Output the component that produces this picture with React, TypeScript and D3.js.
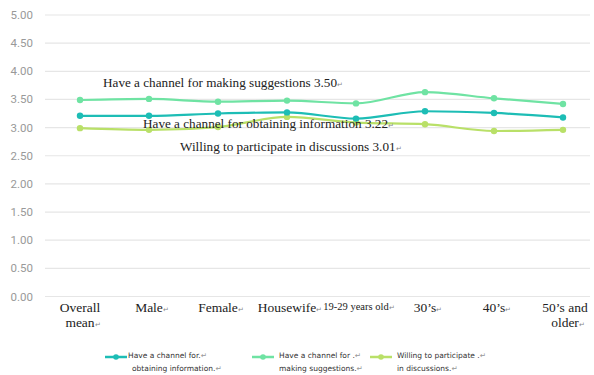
import React, { useRef, useEffect } from 'react';
import * as d3 from 'd3';

const categories = ['Overall mean', 'Male', 'Female', 'Housewife', '19-29 years old', "30's", "40's", "50's and older"];
const categoryLines = [['Overall', 'mean'], ['Male'], ['Female'], ['Housewife'], ['19-29 years old'], ['30’s'], ['40’s'], ['50’s and', 'older']];
const information = [3.21, 3.21, 3.25, 3.27, 3.16, 3.29, 3.26, 3.18];
const suggestions = [3.49, 3.51, 3.46, 3.48, 3.43, 3.63, 3.52, 3.42];
const discussions = [2.99, 2.96, 3.01, 3.19, 3.09, 3.06, 2.94, 2.96];
const yTicks = [0, 0.5, 1, 1.5, 2, 2.5, 3, 3.5, 4, 4.5, 5];

const seriesList = [
  { name: 'information', values: information, color: '#1dbdb5', legend: ['Have a channel for.', 'obtaining information.'] },
  { name: 'suggestions', values: suggestions, color: '#6fe3a3', legend: ['Have a channel for .', 'making suggestions.'] },
  { name: 'discussions', values: discussions, color: '#b9e068', legend: ['Willing to participate .', 'in discussions.'] },
];

const annotations = [
  { text: 'Have a channel for making suggestions 3.50', x: 103, y: 87 },
  { text: 'Have a channel for obtaining information 3.22', x: 143, y: 128 },
  { text: 'Willing to participate in discussions 3.01', x: 180, y: 151 },
];

const App: React.FC = () => {
  const svgRef = useRef<SVGSVGElement>(null);

  useEffect(() => {
    const svg = d3.select(svgRef.current);
    svg.selectAll('*').remove();

    const x = d3.scalePoint<string>().domain(categories).range([80, 563]);
    const y = d3.scaleLinear().domain([0, 5]).range([296.5, 15]);

    // grid
    svg.append('g')
      .selectAll('line')
      .data(yTicks)
      .enter().append('line')
      .attr('x1', 45).attr('x2', 590)
      .attr('y1', d => y(d)).attr('y2', d => y(d))
      .attr('stroke', '#e6e6e6')
      .attr('stroke-width', 1.2);

    svg.append('g')
      .selectAll('text')
      .data(yTicks)
      .enter().append('text')
      .attr('x', 33)
      .attr('y', d => y(d))
      .attr('dy', '0.35em')
      .attr('text-anchor', 'end')
      .style('font-family', 'Roboto, sans-serif')
      .style('font-size', '11.5px')
      .style('fill', '#999')
      .text(d => d3.format('.2f')(d));

    // x labels
    categories.forEach((c, i) => {
      const lines = categoryLines[i];
      const small = c === '19-29 years old';
      const cx = x(c)! + (c === "50's and older" ? 2 : 0);
      const t = svg.append('text')
        .attr('x', cx)
        .attr('y', 312)
        .attr('text-anchor', 'middle')
        .style('font-family', '"Liberation Serif", serif')
        .style('font-size', small ? '10.5px' : '13.5px')
        .style('fill', '#222');
      lines.forEach((l, j) => {
        t.append('tspan')
          .attr('x', j === lines.length - 1 ? cx + 3 : cx)
          .attr('dy', j === 0 ? (small ? -2 : 0) : 15)
          .text(l)
          .append('tspan')
          .style('font-size', '7px')
          .style('fill', '#888')
          .text(j === lines.length - 1 ? '↵' : '');
      });
    });

    const line = d3.line<number>()
      .x((_, i) => x(categories[i])!)
      .y(d => y(d))
      .curve(d3.curveMonotoneX);

    // draw in order: discussions, information, suggestions
    [seriesList[2], seriesList[0], seriesList[1]].forEach(s => {
      svg.append('path')
        .datum(s.values)
        .attr('fill', 'none')
        .attr('stroke', s.color)
        .attr('stroke-width', 2.2)
        .attr('d', line);
      svg.append('g')
        .selectAll('circle')
        .data(s.values)
        .enter().append('circle')
        .attr('cx', (_, i) => x(categories[i])!)
        .attr('cy', d => y(d))
        .attr('r', 3.2)
        .attr('fill', s.color);
    });

    // annotations
    annotations.forEach(a => {
      const t = svg.append('text')
        .attr('x', a.x)
        .attr('y', a.y)
        .style('font-family', '"Liberation Serif", serif')
        .style('font-size', '13.2px')
        .style('fill', '#222')
        .text(a.text);
      t.append('tspan')
        .style('font-size', '7px')
        .style('fill', '#888')
        .text('↵');
    });

    // legend
    const legendX = [105, 252, 370];
    seriesList.forEach((s, i) => {
      const lg = svg.append('g').attr('transform', `translate(${legendX[i]},357)`);
      lg.append('line')
        .attr('x1', 0).attr('x2', 22)
        .attr('y1', 0).attr('y2', 0)
        .attr('stroke', s.color)
        .attr('stroke-width', 2.5);
      lg.append('circle')
        .attr('cx', 11).attr('cy', 0)
        .attr('r', 2.8)
        .attr('fill', s.color);
      s.legend.forEach((l, j) => {
        lg.append('text')
          .attr('x', i === 0 ? 23 : 27)
          .attr('y', j * 13 + 1)
          .attr('dx', j === 1 && i === 0 ? 4 : 0)
          .style('font-family', '"DejaVu Sans", sans-serif')
          .style('font-size', '7.5px')
          .style('fill', '#333')
          .text(l)
          .append('tspan')
          .style('fill', '#999')
          .text('↵');
      });
    });
  }, []);

  return (
    <svg ref={svgRef} width={594} height={375}
      style={{ position: 'absolute', left: 0, top: 0, background: '#fff' }} />
  );
};

export default App;
